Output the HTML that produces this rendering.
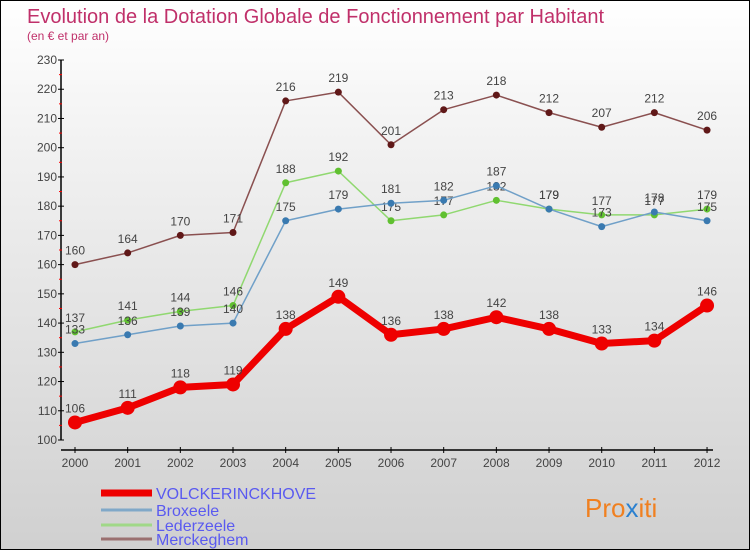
<!DOCTYPE html>
<html><head><meta charset="utf-8"><style>
body{margin:0}
#c{width:748px;height:548px;border:1px solid #000;background:linear-gradient(#fff,#f0f0f0 30%,#d0d0d0);position:relative;font-family:"Liberation Sans","DejaVu Sans",sans-serif}
</style></head><body>
<div id="c">
<svg id="s" width="748" height="548" style="position:absolute;left:0;top:0">
<text x="26" y="22" font-size="20" fill="#c0306a">Evolution de la Dotation Globale de Fonctionnement par Habitant</text>
<text x="26" y="39" font-size="12" fill="#c0306a">(en € et par an)</text>
<text x="584" y="516" font-size="26" fill="#f08020">Pro<tspan fill="#2a80d0">x</tspan>iti</text>
</svg>
</div>
<script>
const years=[2000,2001,2002,2003,2004,2005,2006,2007,2008,2009,2010,2011,2012];
const yTicks=[100,110,120,130,140,150,160,170,180,190,200,210,220,230];
const volck=[106,111,118,119,138,149,136,138,142,138,133,134,146];
const brox=[133,136,139,140,175,179,181,182,187,179,173,178,175];
const leder=[137,141,144,146,188,192,175,177,182,179,177,177,179];
const merck=[160,164,170,171,216,219,201,213,218,212,207,212,206];
const names=["VOLCKERINCKHOVE","Broxeele","Lederzeele","Merckeghem"];
const NS="http://www.w3.org/2000/svg";
const s=document.getElementById('s');
const X=i=>74+i*52.67, Y=v=>439-(v-100)*2.923;
function el(t,a,p){const e=document.createElementNS(NS,t);for(const k in a)e.setAttribute(k,a[k]);(p||s).appendChild(e);return e;}
let ax=el('line',{x1:60,y1:Y(230),x2:60,y2:Y(100),stroke:'#000','stroke-width':1.5});


let xx=el('line',{x1:60,y1:449,x2:712,y2:449,stroke:'#000','stroke-width':1.5});


yTicks.forEach(v=>{
 el('line',{x1:57,x2:63,y1:Y(v),y2:Y(v),stroke:'#000'});
 if(v<230)el('line',{x1:58,x2:61,y1:Y(v+5),y2:Y(v+5),stroke:'#f00'});
 const t=el('text',{x:56,y:Y(v)+4,'font-size':12,'text-anchor':'end',fill:'#444'});t.textContent=v;
 
 
});
years.forEach((yr,i)=>{
 el('line',{x1:X(i),x2:X(i),y1:446,y2:452,stroke:'#000'});
 const t=el('text',{x:X(i),y:466,'font-size':12,'text-anchor':'middle',fill:'#444'});t.textContent=yr;
 
 
});
function series(d,col,dot,w,r,nm){
 const p=el('polyline',{points:d.map((v,i)=>X(i)+','+Y(v)).join(' '),fill:'none',stroke:col,'stroke-width':w,'stroke-linejoin':'round'});
 
 
 d.forEach((v,i)=>{
  const c=el('circle',{cx:X(i),cy:Y(v),r:r,fill:dot});
  
  
  const t=el('text',{x:X(i),y:Y(v)-10,'font-size':12,'text-anchor':'middle',fill:'#444'});t.textContent=v;
  
  
 });
}
series(merck,'#8a5050','#601818',1.5,3.5,'merckeghem');
series(leder,'#90d870','#60c030',1.5,3.5,'lederzeele');
series(brox,'#70a0c8','#3a7ab0',1.5,3.5,'broxeele');
series(volck,'#ee0000','#ee0000',7,7,'volckerinckhove');
const lc=['#ee0000','#80a8c8','#a0d888','#9a7070'],lw=[7,3,3,3],ly=[492,509,524,538];
names.forEach((n,i)=>{
 const g=el('g',{});
 
 
 el('line',{x1:100,x2:151,y1:ly[i],y2:ly[i],stroke:lc[i],'stroke-width':lw[i]},g);
 const t=el('text',{x:155,y:ly[i]+6,'font-size':16,fill:'#5a5af0'},g);t.textContent=n;
});
</script>
</body></html>
